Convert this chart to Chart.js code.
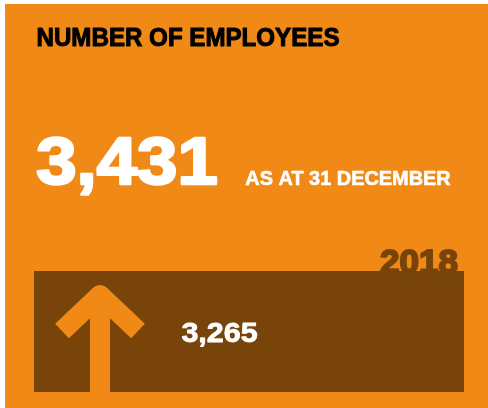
<!DOCTYPE html>
<html>
<head>
<meta charset="utf-8">
<script src="https://cdn.jsdelivr.net/npm/chart.js@4/dist/chart.umd.min.js"></script>
<style>
  html, body { margin: 0; padding: 0; background: #ffffff; }
  #wrap { width: 488px; height: 408px; position: relative; }
</style>
</head>
<body>
<div id="wrap"><canvas id="c" width="488" height="408"></canvas></div>
<script>
// ---- data ----
const titleText = 'NUMBER OF EMPLOYEES';
const currentEmployees = 3431;
const currentLabel = 'AS AT 31 DECEMBER';
const categories = ['2018'];
const employeeValues = [3265];

// ---- colours ----
const ORANGE = '#F08916';
const BROWN = '#784409';
const WHITE = '#ffffff';
const FONT = '"Liberation Sans", Arial, sans-serif';

const fmt = v => v.toLocaleString('en-US');

function fitText(ctx, text, x, y, size, width, color, align, weight) {
  ctx.save();
  ctx.font = 'bold ' + size + 'px ' + FONT;
  ctx.fillStyle = color;
  ctx.strokeStyle = color;
  ctx.lineJoin = 'round';
  ctx.textBaseline = 'alphabetic';
  ctx.textAlign = 'left';
  const w = ctx.measureText(text).width;
  const s = (width - weight) / w;
  const left = (align === 'right' ? x - width : x) + weight / 2;
  ctx.translate(left, y);
  ctx.scale(s, 1);
  ctx.fillText(text, 0, 0);
  if (weight > 0) {
    ctx.lineWidth = weight;
    ctx.strokeText(text, 0, 0);
  }
  ctx.restore();
}

const decor = {
  id: 'decor',
  beforeDraw(chart) {
    const ctx = chart.ctx;
    ctx.save();
    ctx.fillStyle = WHITE;
    ctx.fillRect(0, 0, chart.width, chart.height);
    ctx.fillStyle = ORANGE;
    ctx.fillRect(5, 4, chart.width - 5, chart.height - 4);
    ctx.restore();
  },
  afterDatasetsDraw(chart) {
    const ctx = chart.ctx;
    const bar = chart.getDatasetMeta(0).data[0];
    const props = bar.getProps(['x', 'y', 'base', 'height'], true);
    const top = props.y - props.height / 2;
    const bottom = props.y + props.height / 2;
    const left = props.base;
    const right = props.x;

    // arrow
    const ax = left + 66;
    const apexY = top + 24;
    ctx.save();
    ctx.strokeStyle = ORANGE;
    ctx.lineWidth = 20;
    ctx.lineCap = 'butt';
    ctx.lineJoin = 'round';
    ctx.beginPath();
    ctx.moveTo(ax - 38, apexY + 36);
    ctx.lineTo(ax, apexY);
    ctx.lineTo(ax + 38, apexY + 36);
    ctx.stroke();
    ctx.beginPath();
    ctx.moveTo(ax, apexY);
    ctx.lineTo(ax, bottom);
    ctx.stroke();
    ctx.restore();

    // category label above bar right
    fitText(ctx, categories[0], right - 5, top + 2, 34, 80, BROWN, 'right', 2);
    // value label
    fitText(ctx, fmt(employeeValues[0]), left + 147, props.y + 10, 27, 77, WHITE, 'left', 0.8);
  },
  afterDraw(chart) {
    const ctx = chart.ctx;
    fitText(ctx, titleText, 36, 46, 25, 304, '#000000', 'left', 1);
    fitText(ctx, fmt(currentEmployees), 35, 184, 66, 184, WHITE, 'left', 2.5);
    fitText(ctx, currentLabel, 245, 185, 20, 206, WHITE, 'left', 0.6);
  }
};

new Chart(document.getElementById('c'), {
  type: 'bar',
  data: {
    labels: categories,
    datasets: [{
      data: employeeValues,
      backgroundColor: BROWN,
      borderWidth: 0,
      barPercentage: 1,
      categoryPercentage: 1
    }]
  },
  options: {
    indexAxis: 'y',
    responsive: false,
    animation: false,
    layout: { padding: { left: 34, right: 24, top: 271, bottom: 16 } },
    scales: {
      x: { display: false, min: 0, max: employeeValues[0] },
      y: { display: false }
    },
    plugins: {
      legend: { display: false },
      tooltip: { enabled: false }
    }
  },
  plugins: [decor]
});
</script>
</body>
</html>
